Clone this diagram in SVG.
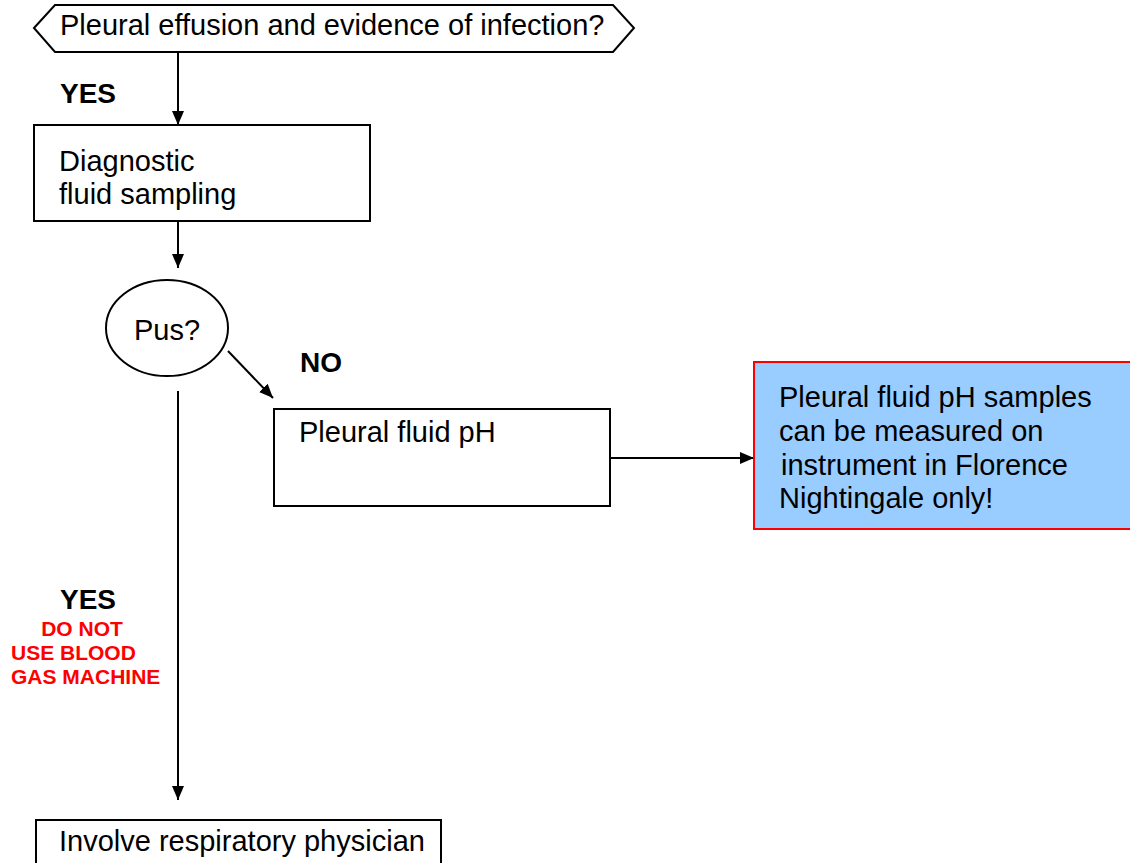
<svg xmlns="http://www.w3.org/2000/svg" width="1130" height="863" viewBox="0 0 1130 863">
<style>
text{font-family:"Liberation Sans",Arial,sans-serif;font-size:29px;fill:#000}
.b{font-weight:bold;font-size:28px}
.r{font-weight:bold;font-size:21px;fill:#ff0000}
.n{fill:#fff;stroke:#000;stroke-width:2}
.c{fill:none;stroke:#000;stroke-width:2}
</style>
<defs>
<marker id="ah" viewBox="0 0 14 12" refX="14" refY="6" markerWidth="14" markerHeight="12" markerUnits="userSpaceOnUse" orient="auto">
<path d="M0,0 L14,6 L0,12 Z" fill="#000"/>
</marker>
</defs>
<g id="connectors">
<line class="c" x1="178" y1="52" x2="178" y2="125" marker-end="url(#ah)"/>
<line class="c" x1="178" y1="221" x2="178" y2="268" marker-end="url(#ah)"/>
<line class="c" x1="228" y1="351" x2="273" y2="398" marker-end="url(#ah)"/>
<line class="c" x1="610" y1="458" x2="754" y2="458" marker-end="url(#ah)"/>
<line class="c" x1="178" y1="391" x2="178" y2="800" marker-end="url(#ah)"/>
</g>
<g id="start">
<polygon class="n" points="34,28 55,5 613,5 634,28 613,52 55,52"/>
<text x="60" y="35">Pleural effusion and evidence of infection?</text>
</g>
<g id="labels">
<text class="b" x="60" y="103">YES</text>
<text class="b" x="300" y="372">NO</text>
<text class="b" x="60" y="609">YES</text>
<text class="r" x="82" y="635.5" text-anchor="middle">DO NOT</text>
<text class="r" x="11" y="659.5">USE BLOOD</text>
<text class="r" x="11" y="683.5">GAS MACHINE</text>
</g>
<g id="sampling">
<rect class="n" x="34" y="125" width="336" height="96"/>
<text x="59" y="171">Diagnostic</text>
<text x="59" y="204">fluid sampling</text>
</g>
<g id="pus">
<ellipse class="n" cx="167" cy="328" rx="61" ry="48"/>
<text x="167" y="340" text-anchor="middle">Pus?</text>
</g>
<g id="ph">
<rect class="n" x="274" y="409" width="336" height="97"/>
<text x="299" y="442">Pleural fluid pH</text>
</g>
<g id="note">
<rect x="754" y="362" width="385" height="167" fill="#99ccff" stroke="#ff0000" stroke-width="2"/>
<text x="779" y="407">Pleural fluid pH samples</text>
<text x="779" y="441">can be measured on</text>
<text x="781" y="475">instrument in Florence</text>
<text x="779" y="508">Nightingale only!</text>
</g>
<g id="physician">
<rect class="n" x="36" y="820" width="405" height="60"/>
<text x="59" y="851">Involve respiratory physician</text>
</g>
</svg>
